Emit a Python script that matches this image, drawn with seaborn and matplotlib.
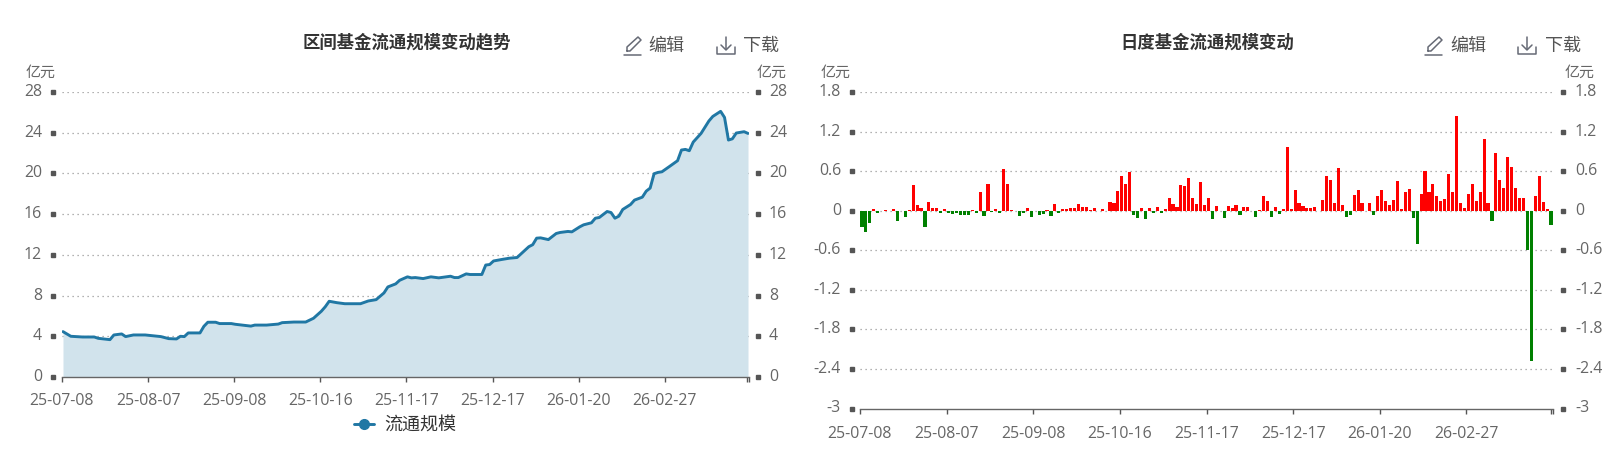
# modules we'll use
import numpy as np
import pandas as pd
import seaborn as sns
import matplotlib.pyplot as plt
from matplotlib.lines import Line2D
from matplotlib.transforms import blended_transform_factory

# chart values
tick_labels = ['25-07-08', '25-08-07', '25-09-08', '25-10-16',
               '25-11-17', '25-12-17', '26-01-20', '26-02-27']
tick_step = 22

# total scale (positions are trading day numbers)
scale_days = [0, 2, 5, 8, 9, 12, 13, 15, 16, 18, 21, 25, 27, 29, 30, 31, 32, 35, 36, 37,
              39, 40, 43, 44, 48, 49, 52, 55, 56, 59, 62, 64, 66, 67, 68, 70, 72, 76, 78, 80,
              82, 83, 85, 86, 88, 89, 90, 92, 94, 96, 99, 100, 101, 103, 104, 107, 108, 109, 110, 112,
              114, 116, 119, 120, 121, 122, 124, 126, 127, 129, 130, 132, 133, 135, 136, 137, 139, 140, 141, 142,
              143, 145, 146, 148, 149, 150, 151, 152, 153, 155, 157, 158, 159, 160, 161, 163, 165, 166, 168, 169,
              170, 171, 172, 174, 175]
scale_values = [4.46, 4.0, 3.93, 3.93, 3.8, 3.67, 4.13, 4.23, 3.97, 4.13, 4.13, 3.97, 3.77, 3.74, 4.0, 3.97, 4.33, 4.33, 4.98, 5.38,
                5.38, 5.25, 5.25, 5.18, 5.0, 5.1, 5.1, 5.2, 5.34, 5.4, 5.4, 5.77, 6.46, 6.9, 7.44, 7.3, 7.2, 7.2, 7.47, 7.6,
                8.26, 8.85, 9.15, 9.5, 9.84, 9.74, 9.77, 9.67, 9.84, 9.74, 9.9, 9.77, 9.77, 10.13, 10.07, 10.07, 11.0, 11.05, 11.4, 11.54,
                11.67, 11.74, 12.8, 13.0, 13.64, 13.67, 13.5, 14.1, 14.2, 14.3, 14.26, 14.75, 14.95, 15.15, 15.6, 15.67, 16.26, 16.16, 15.6, 15.8,
                16.46, 16.95, 17.38, 17.67, 18.26, 18.56, 19.97, 20.1, 20.16, 20.7, 21.25, 22.3, 22.36, 22.23, 23.08, 23.93, 25.15, 25.6, 26.1, 25.5,
                23.28, 23.4, 23.97, 24.1, 23.93]

# daily change
daily_values = [-0.24, -0.33, -0.18, 0.02, -0.03, 0.0, 0.01, 0.0, 0.03, -0.16, -0.01, -0.09, 0.01, 0.39, 0.09, 0.04, -0.25, 0.13, 0.04, 0.04,
                -0.04, 0.03, -0.03, -0.05, -0.03, -0.07, -0.06, -0.06, 0.01, -0.04, 0.28, -0.08, 0.40, -0.02, 0.03, -0.03, 0.63, 0.40, 0.01, -0.01,
                -0.08, -0.03, 0.04, -0.09, -0.01, -0.06, -0.05, 0.01, -0.08, 0.10, -0.03, 0.03, 0.03, 0.04, 0.04, 0.10, 0.06, 0.06, 0.01, 0.04,
                -0.01, 0.03, 0.0, 0.13, 0.11, 0.30, 0.53, 0.40, 0.58, -0.06, -0.11, 0.04, -0.12, 0.04, -0.03, 0.05, -0.04, 0.03, 0.19, 0.10,
                0.05, 0.39, 0.37, 0.50, 0.19, 0.10, 0.44, 0.08, 0.19, -0.13, 0.07, -0.01, -0.11, 0.07, 0.04, 0.08, -0.07, 0.05, 0.05, 0.0,
                -0.09, 0.01, 0.23, 0.15, -0.09, 0.06, -0.05, 0.02, 0.97, 0.02, 0.32, 0.12, 0.07, 0.04, 0.04, 0.05, -0.01, 0.16, 0.53, 0.46,
                0.12, 0.65, 0.08, -0.09, -0.06, 0.24, 0.31, 0.12, 0.0, 0.11, -0.07, 0.23, 0.31, 0.14, 0.09, 0.16, 0.45, 0.02, 0.28, 0.33,
                -0.11, -0.51, 0.25, 0.60, 0.28, 0.40, 0.22, 0.14, 0.18, 0.56, 0.28, 1.44, 0.12, 0.04, 0.25, 0.40, 0.14, 0.29, 1.08, 0.11,
                -0.16, 0.87, 0.47, 0.34, 0.81, 0.66, 0.35, 0.20, 0.20, -0.60, -2.28, 0.22, 0.53, 0.13, 0.02, -0.22]

scale_ticks = [0, 4, 8, 12, 16, 20, 24, 28]
daily_ticks = [-3, -2.4, -1.8, -1.2, -0.6, 0, 0.6, 1.2, 1.8]
daily_tick_labels = ['-3', '-2.4', '-1.8', '-1.2', '-0.6', '0', '0.6', '1.2', '1.8']

sns.set_theme(style='white')
plt.rcParams['font.family'] = ['Open Sans', 'Noto Sans CJK SC']

W, H = 1614, 454
GREY = '#666666'
BLUE = '#2077a4'


def px_axes(left, right, top, bottom):
    return fig.add_axes([left / W, 1 - bottom / H, (right - left) / W, (bottom - top) / H])


def style_axis(ax, ticks, labels, ylim, xticks, xlabels, lab_left, lab_right, sq_left, sq_right, xpad):
    ax.set_ylim(*ylim)
    ax.set_yticks(ticks)
    ax.set_yticklabels([])
    ax.set_xlabel('')
    ax.set_ylabel('')
    ax.grid(False)
    for s in ['top', 'left', 'right']:
        ax.spines[s].set_visible(False)
    ax.spines['bottom'].set_color('#666666')
    ax.spines['bottom'].set_linewidth(1.0)
    for t in ticks:
        if t != ylim[0]:
            ax.axhline(t, color='#999999', lw=0.9, ls=(0, (1, 3)), zorder=0.5)
    ax.tick_params(axis='y', length=0)
    ax.set_xticks(xticks)
    ax.set_xticklabels(xlabels + [''] * (len(xticks) - len(xlabels)), fontsize=11.4, color=GREY)
    ax.tick_params(axis='x', length=3.5, width=1, color='#555555', pad=xpad, bottom=True)
    tr = blended_transform_factory(fig.transFigure, ax.transData)
    ax.plot([sq_left / W] * len(ticks), ticks, 's', ms=3.4, color='#555555', transform=tr, clip_on=False)
    ax.plot([sq_right / W] * len(ticks), ticks, 's', ms=3.4, color='#555555', transform=tr, clip_on=False)
    for t, lab in zip(ticks, labels):
        ax.text(lab_left / W, t, lab, transform=tr, ha='right', va='center', fontsize=11.4, color=GREY)
        ax.text(lab_right / W, t, lab, transform=tr, ha='left', va='center', fontsize=11.4, color=GREY)


def fig_text(x, y, s, **kw):
    fig.text(x / W, 1 - y / H, s, **kw)


def fig_line(xs, ys, color='#666a75', lw=1.1):
    fig.add_artist(Line2D([x / W for x in xs], [1 - y / H for y in ys], color=color, lw=lw))


def toolbar(pen_x, edit_x, load_x, down_x):
    # pencil
    fig_line([pen_x, pen_x + 17], [55, 55])
    fig_line([pen_x + 3, pen_x + 3, pen_x + 14, pen_x + 17, pen_x + 6, pen_x + 3],
             [51, 47, 37, 40, 51, 51])
    fig_text(edit_x, 46, '编辑', fontsize=13, color='#555555', va='center', ha='left')
    # download arrow
    fig_line([load_x, load_x, load_x + 18, load_x + 18], [47, 54, 54, 47])
    fig_line([load_x + 9, load_x + 9], [37, 49])
    fig_line([load_x + 4, load_x + 9, load_x + 14], [45, 50, 45])
    fig_text(down_x, 46, '下载', fontsize=13, color='#555555', va='center', ha='left')


fig = plt.figure(figsize=(W / 100, H / 100), dpi=100, facecolor='white')

# left chart : total scale
ax1 = px_axes(62, 749, 92, 377)
sns.lineplot(x=scale_days, y=scale_values, color=BLUE, lw=2.1, ax=ax1, zorder=3, errorbar=None)
ax1.fill_between(scale_days, scale_values, 0, color='#d1e3ec', lw=0, zorder=1)
ax1.set_xlim(-0.25, 175.25)
left_ticks = [i * tick_step - 0.25 for i in range(len(tick_labels))] + [174.7, 175.25]
style_axis(ax1, scale_ticks, [str(t) for t in scale_ticks], (0, 28), left_ticks, tick_labels,
           42, 769, 53, 758, 8)
ax1.legend(handles=[Line2D([], [], color=BLUE, lw=2.1, marker='o', ms=7, label='流通规模')],
           loc='center', bbox_to_anchor=(405 / W, 1 - 425 / H), bbox_transform=fig.transFigure,
           frameon=False, fontsize=13, labelcolor='#333333', handlelength=1.15, handletextpad=0.55)

# right chart : daily change
ax2 = px_axes(860, 1553, 92, 408.5)
daily = pd.DataFrame({'day': np.arange(len(daily_values)), 'value': daily_values})
daily['sign'] = np.where(daily['value'] >= 0, 'up', 'down')
sns.barplot(data=daily, x='day', y='value', hue='sign', palette={'up': '#ff0000', 'down': '#008000'},
            dodge=False, width=0.78, saturation=1, legend=False, linewidth=0, ax=ax2, zorder=3)
n = len(daily_values)
ax2.set_xlim(-0.5, n - 0.5)
right_ticks = [i * tick_step - 0.5 for i in range(len(tick_labels))] + [n - 1, n - 0.5]
style_axis(ax2, daily_ticks, daily_tick_labels, (-3, 1.8), right_ticks, tick_labels,
           841, 1575, 852, 1563, 9)

# headers
fig_text(407, 43, '区间基金流通规模变动趋势', fontsize=12.5, fontweight='black', color='#333333', ha='center', va='center')
fig_text(1207, 43, '日度基金流通规模变动', fontsize=12.5, fontweight='black', color='#333333', ha='center', va='center')
for x in [41, 772, 836, 1580]:
    fig_text(x, 73, '亿元', fontsize=10.8, color=GREY, ha='center', va='center')
toolbar(624, 648, 717, 743)
toolbar(1425, 1450, 1518, 1545)

fig.savefig('out.png', dpi=100)
